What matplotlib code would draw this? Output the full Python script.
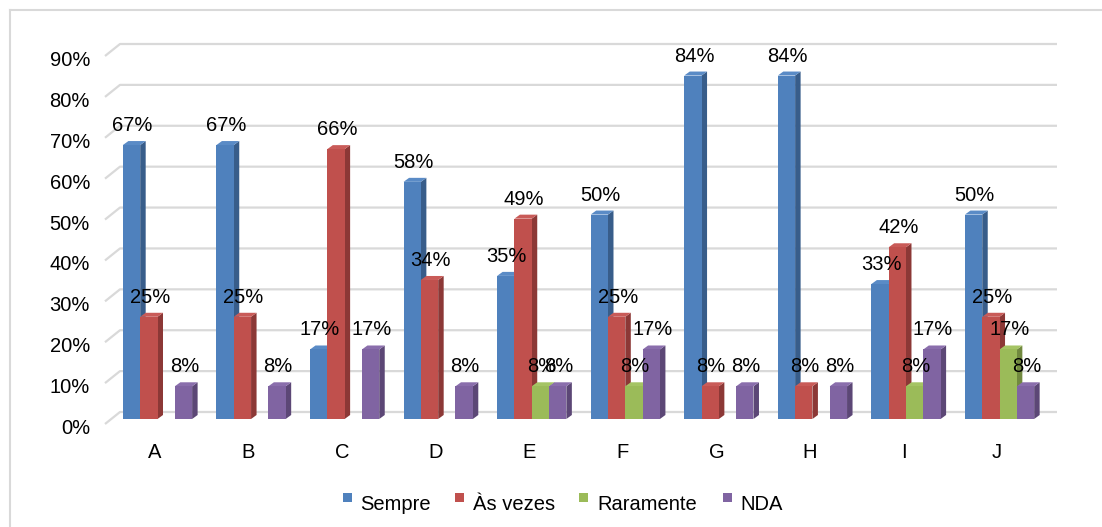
import matplotlib
matplotlib.use("Agg")
import matplotlib.pyplot as plt
from matplotlib.patches import Polygon, Rectangle
from matplotlib.lines import Line2D

plt.rcParams['font.family'] = ['Liberation Sans', 'DejaVu Sans']

categories = ["A", "B", "C", "D", "E", "F", "G", "H", "I", "J"]
series_names = ["Sempre", "Às vezes", "Raramente", "NDA"]
sempre    = [67, 67, 17, 58, 35, 50, 84, 84, 33, 50]
as_vezes  = [25, 25, 66, 34, 49, 25, 8, 8, 42, 25]
raramente = [0, 0, 0, 0, 8, 8, 0, 0, 8, 17]
nda       = [8, 8, 17, 8, 8, 17, 8, 8, 17, 8]
y_ticks = [0, 10, 20, 30, 40, 50, 60, 70, 80, 90]

series = [sempre, as_vezes, raramente, nda]
front_colors = ["#4F81BD", "#C0504D", "#9BBB59", "#8064A2"]
side_colors = ["#385D8A", "#8C3836", "#71893F", "#5C4776"]
top_colors = ["#5A8BC6", "#C95B58", "#A5C464", "#8A6EAC"]

W, H, DPI = 1102, 527, 100
fig = plt.figure(figsize=(W / DPI, H / DPI), dpi=DPI)

# front plane of the plot in pixels
px_left, px_right, px_bottom, px_top = 105, 1042, 424, 56
ax = fig.add_axes([px_left / W, (H - px_bottom) / H,
                   (px_right - px_left) / W, (px_bottom - px_top) / H])
PX = 93.56                      # pixels per category
PY = (px_bottom - px_top) / 90  # pixels per percent
x_lo = (px_left - 155) / PX
x_hi = x_lo + (px_right - px_left) / PX
ax.set_xlim(x_lo, x_hi)
ax.set_ylim(0, 90)
ax.axis("off")


def ux(px):
    return px / PX


def uy(px):
    return px / PY


# back wall gridlines with the slanted side-wall edge
wall_dx, wall_dy = ux(15), uy(12)
grid_color = "#d9d9d9"
for t in y_ticks:
    ax.add_line(Line2D([x_lo, x_lo + wall_dx, x_hi + wall_dx],
                       [t, t + wall_dy, t + wall_dy],
                       color=grid_color, lw=1.6, clip_on=False, zorder=1,
                       solid_capstyle="butt"))
    ax.annotate(f"{t}%", (x_lo, t), xytext=(-15, -10),
                textcoords="offset pixels", ha="right", va="baseline",
                fontsize=14.5, color="#000000", annotation_clip=False)

# 3D-style columns
bar_w = 0.185
shift_x, shift_y = ux(2.5), uy(5)
depth_x, depth_y = ux(5.5), uy(4)
n = len(series)
z = 3
for i, cat in enumerate(categories):
    for s in range(n):
        v = series[s][i]
        x0 = i - n * bar_w / 2 + s * bar_w + shift_x
        if v > 0:
            y0 = shift_y
            y1 = shift_y + v
            front = Rectangle((x0, y0), bar_w, v, facecolor=front_colors[s],
                              edgecolor="none", clip_on=False, zorder=z)
            side = Polygon([(x0 + bar_w, y0), (x0 + bar_w + depth_x, y0 + depth_y),
                            (x0 + bar_w + depth_x, y1 + depth_y), (x0 + bar_w, y1)],
                           closed=True, facecolor=side_colors[s], edgecolor="none",
                           clip_on=False, zorder=z)
            top = Polygon([(x0, y1), (x0 + bar_w, y1),
                           (x0 + bar_w + depth_x, y1 + depth_y), (x0 + depth_x, y1 + depth_y)],
                          closed=True, facecolor=top_colors[s], edgecolor="none",
                          clip_on=False, zorder=z)
            ax.add_patch(side)
            ax.add_patch(top)
            ax.add_patch(front)
            ax.annotate(f"{v}%", (x0 + bar_w / 2, y1), xytext=(1, 14),
                        textcoords="offset pixels", ha="center", va="baseline",
                        fontsize=14.5, color="#000000", zorder=50,
                        annotation_clip=False)
        z += 1
    ax.annotate(cat, (i, 0), xytext=(0, -34), textcoords="offset pixels",
                ha="center", va="baseline", fontsize=14.5, color="#000000",
                annotation_clip=False)

# legend
leg_sq = [343, 455, 579, 723]
leg_tx = [360.5, 473, 597, 740]
for s in range(n):
    fig.patches.append(Rectangle((leg_sq[s] / W, (H - 502) / H), 9 / W, 9 / H,
                                 transform=fig.transFigure, facecolor=front_colors[s],
                                 edgecolor="none"))
    fig.text(leg_tx[s] / W, (H - 510) / H, series_names[s], ha="left",
             va="baseline", fontsize=14.5, color="#000000")

# chart area border
fig.add_artist(Line2D([9.5 / W, 9.5 / W], [0, (H - 10) / H], transform=fig.transFigure,
                      color=grid_color, lw=1.5))
fig.add_artist(Line2D([9.5 / W, 1], [(H - 10) / H, (H - 10) / H], transform=fig.transFigure,
                      color=grid_color, lw=1.5))

fig.savefig("out.png", dpi=DPI)
